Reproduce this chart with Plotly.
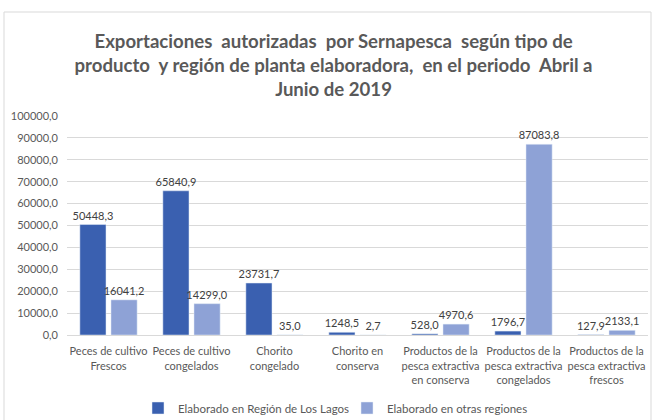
import plotly.graph_objects as go

categories = [
    "Peces de cultivo<br>Frescos",
    "Peces de cultivo<br>congelados",
    "Chorito<br>congelado",
    "Chorito en<br>conserva",
    "Productos de la<br>pesca extractiva<br>en conserva",
    "Productos de la<br>pesca extractiva<br>congelados",
    "Productos de la<br>pesca extractiva<br>frescos",
]
lagos = [50448.3, 65840.9, 23731.7, 1248.5, 528.0, 1796.7, 127.9]
otras = [16041.2, 14299.0, 35.0, 2.7, 4970.6, 87083.8, 2133.1]
series_names = ["Elaborado en Región de Los Lagos", "Elaborado en otras regiones"]
tick_vals = [0, 10000, 20000, 30000, 40000, 50000, 60000, 70000, 80000, 90000, 100000]

FONT = "Lato, Open Sans, sans-serif"

fig = go.Figure()
fig.add_trace(go.Bar(
    x=categories, y=lagos, name=series_names[0],
    marker=dict(color="#3A60B0"),
    text=lagos, texttemplate="%{y:.1f}", textposition="outside",
    constraintext="none",
    textfont=dict(size=11, color="#404040"), cliponaxis=False,
))
fig.add_trace(go.Bar(
    x=categories, y=otras, name=series_names[1],
    marker=dict(color="#8EA2D6"),
    text=otras, texttemplate="%{y:.1f}", textposition="outside",
    constraintext="none",
    textfont=dict(size=11, color="#404040"), cliponaxis=False,
))

W, H = 654, 420
ml, mr, mt, mb = 67, 6, 116, 85

pw = W - ml - mr
ph = H - mt - mb
def px_x(x):
    return (x - ml) / pw
def px_y(y):
    return (H - mb - y) / ph

fig.update_layout(
    width=W, height=H,
    margin=dict(l=ml, r=mr, t=mt, b=mb, autoexpand=False),
    paper_bgcolor="white", plot_bgcolor="white",
    separators=",.",
    font=dict(family=FONT, size=11, color="#595959"),
    title=dict(
        text="Exportaciones  autorizadas  por Sernapesca  según tipo de<br>producto  y región de planta elaboradora,  en el periodo  Abril a<br>Junio de 2019",
        x=0.51, xanchor="center", y=0.886, yanchor="top",
        font=dict(family=FONT, size=18.6, color="#595959", weight="bold"),
    ),
    barmode="group", bargap=0.25, bargroupgap=0.16,
    showlegend=True,
    legend=dict(orientation="h", x=px_x(138), xanchor="left", y=px_y(408), yanchor="middle",
                font=dict(size=11.5, color="#595959"), itemwidth=30,
                entrywidthmode="pixels", entrywidth=164),
    xaxis=dict(showline=True, linecolor="#D9D9D9", linewidth=1, ticks="",
               automargin=False, ticklabelstandoff=6,
               tickfont=dict(size=11, color="#595959")),
    yaxis=dict(range=[0, 100000], tickvals=tick_vals, tickformat=".1f",
               showgrid=True, gridcolor="#D9D9D9", gridwidth=1,
               zeroline=False, showline=False, ticks="", ticklen=0,
               automargin=False, ticklabelstandoff=8,
               tickfont=dict(size=11, color="#595959")),
)

fig.add_shape(type="rect", xref="paper", yref="paper",
              x0=px_x(4), x1=px_x(651), y0=px_y(430), y1=px_y(12),
              line=dict(color="#D9D9D9", width=1), fillcolor="rgba(0,0,0,0)", layer="below")

fig.write_html("out.html", config={"displayModeBar": False},
               post_script="document.body.style.margin='0';")
